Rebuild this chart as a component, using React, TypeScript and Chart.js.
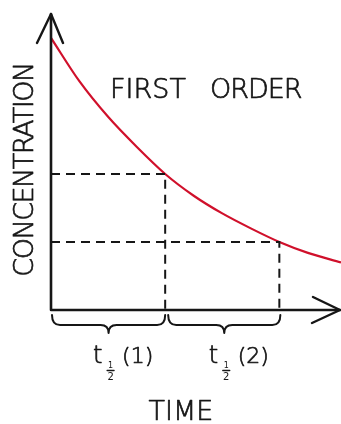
import React, { useEffect, useRef } from "react";
import { Chart, registerables } from "chart.js";

Chart.register(...registerables);

// Data (time in half-life units, concentration relative to start)
const timePoints = [0, 0.25, 0.5, 0.75, 1, 1.25, 1.5, 1.75, 2, 2.25, 2.54];
const concentration = [1.0, 0.84, 0.71, 0.6, 0.5, 0.42, 0.355, 0.3, 0.25, 0.21, 0.175];
const halfLifeTimes = [1, 2];
const halfLifeConc = [0.5, 0.25];
const halfLifeLabels = ["(1)", "(2)"];
const titleWords = ["FIRST", "ORDER"];
const xTitle = "TIME";
const yTitle = "CONCENTRATION";
const xMax = 2.54;
const yMax = 1.088;

const FONT = '"DejaVu Sans", sans-serif';
const INK = "#161616";
const RED = "#d0102b";

const annotationPlugin = {
  id: "firstOrderAnnotations",
  afterDatasetsDraw(chart: any) {
    const ctx: CanvasRenderingContext2D = chart.ctx;
    const xs = chart.scales.x;
    const ys = chart.scales.y;
    const x0 = xs.getPixelForValue(0);
    const y0 = ys.getPixelForValue(0);
    const xEnd = xs.getPixelForValue(xMax);
    const yTop = ys.getPixelForValue(yMax);

    const text = (s: string, x: number, y: number, spacing = 0) => {
      (ctx as any).letterSpacing = `${spacing}px`;
      ctx.lineWidth = 0.7;
      ctx.fillText(s, x, y);
      ctx.strokeText(s, x, y);
      (ctx as any).letterSpacing = "0px";
    };

    ctx.save();
    ctx.strokeStyle = INK;
    ctx.fillStyle = INK;
    ctx.lineCap = "round";
    ctx.lineJoin = "round";

    // axes
    ctx.lineWidth = 2.6;
    ctx.beginPath();
    ctx.moveTo(x0, y0);
    ctx.lineTo(xEnd - 1, y0);
    ctx.moveTo(x0, y0);
    ctx.lineTo(x0, yTop);
    ctx.stroke();

    // arrowheads
    ctx.lineWidth = 2.4;
    ctx.beginPath();
    ctx.moveTo(x0 - 14, yTop + 29);
    ctx.lineTo(x0, yTop);
    ctx.lineTo(x0 + 12, yTop + 29);
    ctx.moveTo(xEnd - 28, y0 - 13);
    ctx.lineTo(xEnd - 1, y0);
    ctx.lineTo(xEnd - 29, y0 + 13);
    ctx.stroke();

    // braces under the x axis
    const braceTop = y0 + 5;
    const m = 10;
    const h = 18;
    const r = 8;
    const drawBrace = (xa: number, xb: number) => {
      const xc = (xa + xb) / 2;
      ctx.beginPath();
      ctx.moveTo(xa, braceTop);
      ctx.quadraticCurveTo(xa, braceTop + m, xa + r, braceTop + m);
      ctx.lineTo(xc - r, braceTop + m);
      ctx.quadraticCurveTo(xc, braceTop + m, xc, braceTop + h);
      ctx.quadraticCurveTo(xc, braceTop + m, xc + r, braceTop + m);
      ctx.lineTo(xb - r, braceTop + m);
      ctx.quadraticCurveTo(xb, braceTop + m, xb, braceTop);
      ctx.stroke();
    };
    let prev = 0;
    halfLifeTimes.forEach((t, i) => {
      const xa = xs.getPixelForValue(prev) + (i === 0 ? 1 : 3);
      const xb = xs.getPixelForValue(t) + (i === 0 ? 0 : 1);
      ctx.lineWidth = 2;
      drawBrace(xa, xb);

      // label t½(n)
      const xc = (xa + xb) / 2;
      const lx = xc - 17;
      const base = y0 + 53;
      ctx.font = `200 24px ${FONT}`;
      ctx.textAlign = "left";
      ctx.textBaseline = "alphabetic";
      text("t", lx + 1.5, base);
      // fraction 1/2
      ctx.font = `400 8px ${FONT}`;
      ctx.textAlign = "center";
      const fx = lx + 19;
      ctx.fillText("1", fx, base + 5);
      ctx.lineWidth = 1.3;
      ctx.beginPath();
      ctx.moveTo(fx - 3.5, base + 7.5);
      ctx.lineTo(fx + 3.5, base + 7.5);
      ctx.stroke();
      ctx.font = `400 10px ${FONT}`;
      ctx.fillText("2", fx, base + 17);
      ctx.font = `200 22px ${FONT}`;
      ctx.textAlign = "left";
      text(halfLifeLabels[i], lx + 30.5, base);
      prev = t;
    });

    // title
    ctx.font = `200 27px ${FONT}`;
    ctx.textAlign = "left";
    ctx.textBaseline = "alphabetic";
    text(titleWords[0], 110, 97.5);
    text(titleWords[1], 210, 97.5, -1);

    // x title
    ctx.textAlign = "center";
    text(xTitle, 181, 420);

    // y title
    ctx.save();
    ctx.translate(33, 170);
    ctx.rotate(-Math.PI / 2);
    ctx.textAlign = "center";
    text(yTitle, 0, 0, -1.5);
    ctx.restore();

    ctx.restore();
  },
};

export default function App() {
  const canvasRef = useRef<HTMLCanvasElement | null>(null);

  useEffect(() => {
    document.body.style.margin = "0";
    document.body.style.background = "#ffffff";
    const canvas = canvasRef.current;
    if (!canvas) return;

    const dashedSets = halfLifeTimes.map((t, i) => ({
      label: `half-life ${i + 1}`,
      data: [
        { x: 0, y: halfLifeConc[i] },
        { x: t, y: halfLifeConc[i] },
        { x: t, y: 0 },
      ],
      borderColor: INK,
      borderWidth: 2,
      borderDash: [9, 6],
      pointRadius: 0,
      tension: 0,
      fill: false,
    }));

    const chart = new Chart(canvas, {
      type: "line",
      data: {
        datasets: [
          ...dashedSets,
          {
            label: "concentration",
            data: timePoints.map((t, i) => ({ x: t, y: concentration[i] })),
            borderColor: RED,
            borderWidth: 2.2,
            pointRadius: 0,
            cubicInterpolationMode: "monotone",
            fill: false,
          },
        ],
      },
      options: {
        animation: false,
        responsive: false,
        devicePixelRatio: 1,
        layout: { padding: { left: 51, top: 14, right: 0, bottom: 114 } },
        scales: {
          x: { type: "linear", min: 0, max: xMax, display: false },
          y: { type: "linear", min: 0, max: yMax, display: false },
        },
        plugins: {
          legend: { display: false },
          tooltip: { enabled: false },
        },
      },
      plugins: [annotationPlugin],
    } as any);

    return () => chart.destroy();
  }, []);

  return <canvas ref={canvasRef} width={341} height={424} style={{ display: "block" }} />;
}
